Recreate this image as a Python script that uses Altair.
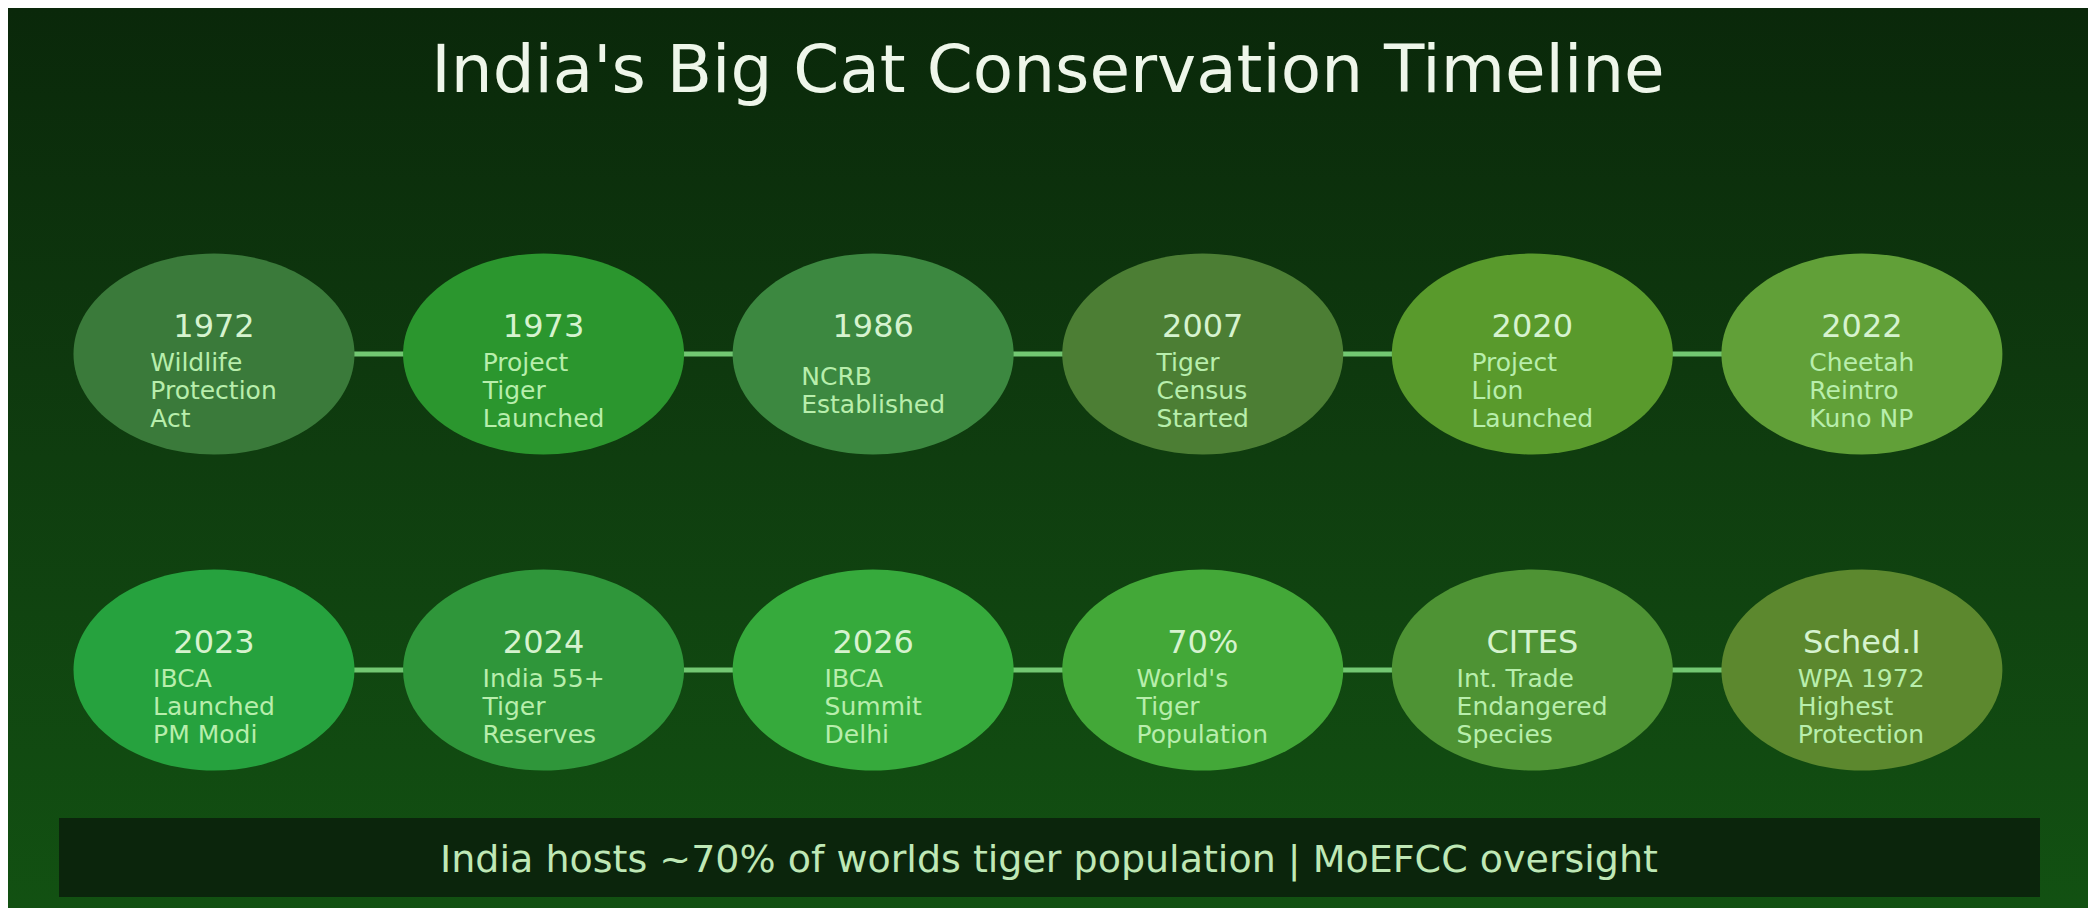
import altair as alt
import pandas as pd

# ---------------- data ----------------
title_text = "India's Big Cat Conservation Timeline"
footer_text = "India hosts ~70% of worlds tiger population | MoEFCC oversight"

row1_labels = ["1972", "1973", "1986", "2007", "2020", "2022"]
row1_desc = [
    ["Wildlife", "Protection", "Act"],
    ["Project", "Tiger", "Launched"],
    ["NCRB", "Established"],
    ["Tiger", "Census", "Started"],
    ["Project", "Lion", "Launched"],
    ["Cheetah", "Reintro", "Kuno NP"],
]
row2_labels = ["2023", "2024", "2026", "70%", "CITES", "Sched.I"]
row2_desc = [
    ["IBCA", "Launched", "PM Modi"],
    ["India 55+", "Tiger", "Reserves"],
    ["IBCA", "Summit", "Delhi"],
    ["World's", "Tiger", "Population"],
    ["Int. Trade", "Endangered", "Species"],
    ["WPA 1972", "Highest", "Protection"],
]

palette = ["#3a7a3a", "#2b962e", "#3c8840", "#4c7e34", "#599a2c", "#61a038",
           "#26a23e", "#2f963a", "#36aa3c", "#43a838", "#4e9334", "#5c882e"]

# ---------------- layout / style ----------------
W, H = 2080, 900
FONT = "DejaVu Sans"
DESC_SIZE = 25
LINE_H = 28
COL_PX = 329.6   # pixels per column step (matches x scale below)
ROW_PX = 316.0   # pixels per row step (matches y scale below)

x_scale = alt.Scale(domain=[-0.625, 5.686], nice=False, zero=False)
y_scale = alt.Scale(domain=[-1.095, 1.753], reverse=True, nice=False, zero=False)

# approximate DejaVu Sans advance widths (units of 1/2048 em)
_w = {" ": 651, "'": 563, "%": 1948, "+": 1716, ".": 651,
      "A": 1401, "B": 1405, "C": 1430, "D": 1577, "E": 1294, "F": 1178, "G": 1587,
      "H": 1540, "I": 604, "J": 604, "K": 1343, "L": 1141, "M": 1767, "N": 1532,
      "O": 1612, "P": 1235, "Q": 1612, "R": 1423, "S": 1300, "T": 1251, "U": 1499,
      "V": 1401, "W": 2025, "X": 1403, "Y": 1251, "Z": 1403,
      "a": 1255, "b": 1300, "c": 1126, "d": 1300, "e": 1260, "f": 721, "g": 1300,
      "h": 1298, "i": 569, "j": 569, "k": 1186, "l": 569, "m": 1995, "n": 1298,
      "o": 1253, "p": 1300, "q": 1300, "r": 842, "s": 1067, "t": 803, "u": 1298,
      "v": 1212, "w": 1675, "x": 1212, "y": 1212, "z": 1075}


def text_px(s, size):
    return sum(_w.get(ch, 1303) for ch in s) / 2048.0 * size


recs = []
for r, (labels, descs) in enumerate([(row1_labels, row1_desc), (row2_labels, row2_desc)]):
    for c, (lab, d) in enumerate(zip(labels, descs)):
        block = max(text_px(s, DESC_SIZE) for s in d)
        recs.append({"row": r, "col": c, "label": lab, "desc": "\n".join(d),
                     "nlines": len(d), "halfw": block / 2.0 / COL_PX})
df = pd.DataFrame(recs)
all_labels = row1_labels + row2_labels

links = pd.DataFrame({"row": [0, 1], "c0": [0, 0], "c1": [5, 5]})
deco = pd.DataFrame({"title": [title_text], "footer": [footer_text]})

ry = 201 / 281
k = 0.5523
ELLIPSE = (f"M-1,0C-1,{-k*ry:.4f},{-k:.4f},{-ry:.4f},0,{-ry:.4f}"
           f"C{k:.4f},{-ry:.4f},1,{-k*ry:.4f},1,0"
           f"C1,{k*ry:.4f},{k:.4f},{ry:.4f},0,{ry:.4f}"
           f"C{-k:.4f},{ry:.4f},-1,{k*ry:.4f},-1,0Z")

grad = alt.LinearGradient(
    gradient="linear",
    stops=[alt.GradientStop(color="#0a280a", offset=0),
           alt.GradientStop(color="#0f3d0f", offset=0.5),
           alt.GradientStop(color="#125112", offset=1)],
    x1=0, x2=0, y1=0, y2=1)

bg = alt.Chart(deco).mark_rect(fill=grad).encode(
    x=alt.value(0), x2=alt.value(W), y=alt.value(0), y2=alt.value(H))

title = alt.Chart(deco).mark_text(
    font=FONT, fontSize=66, color="#eef6ea", align="center", baseline="alphabetic"
).encode(x=alt.value(1040), y=alt.value(84), text="title:N")

connectors = alt.Chart(links).mark_rule(color="#72c872", strokeWidth=5).encode(
    x=alt.X("c0:Q", scale=x_scale, axis=None),
    x2="c1:Q",
    y=alt.Y("row:Q", scale=y_scale, axis=None))

circles = alt.Chart(df).mark_point(
    shape=ELLIPSE, filled=True, size=281 ** 2, opacity=1, strokeWidth=0
).encode(
    x=alt.X("col:Q", scale=x_scale, axis=None),
    y=alt.Y("row:Q", scale=y_scale, axis=None),
    color=alt.Color("label:N", scale=alt.Scale(domain=all_labels, range=palette), legend=None))

years = alt.Chart(df).mark_text(
    font=FONT, fontSize=32, color="#d6f3cf", align="center", baseline="alphabetic", dy=-17
).encode(
    x=alt.X("col:Q", scale=x_scale, axis=None),
    y=alt.Y("row:Q", scale=y_scale, axis=None),
    text="label:N")

descs = alt.Chart(df).transform_calculate(
    xl="datum.col - datum.halfw",
    yl=f"datum.row - (datum.nlines - 1) * {LINE_H / 2} / {ROW_PX}"
).mark_text(
    font=FONT, fontSize=DESC_SIZE, color="#b8eeac", align="left", baseline="middle",
    lineBreak="\n", lineHeight=LINE_H, dy=37
).encode(
    x=alt.X("xl:Q", scale=x_scale, axis=None),
    y=alt.Y("yl:Q", scale=y_scale, axis=None),
    text="desc:N")

footer_bar = alt.Chart(deco).mark_rect(color="#0b250c").encode(
    x=alt.value(51), x2=alt.value(2032), y=alt.value(810), y2=alt.value(889))

footer = alt.Chart(deco).mark_text(
    font=FONT, fontSize=38, color="#bfe8b6", align="center", baseline="alphabetic"
).encode(x=alt.value(1041), y=alt.value(864), text="footer:N")

chart = alt.layer(bg, title, connectors, circles, years, descs, footer_bar, footer).properties(
    width=W, height=H, padding=0, background="#0b2a0b"
).configure_view(stroke=None)

chart.save("out.html", embed_options={"renderer": "svg", "actions": False})
